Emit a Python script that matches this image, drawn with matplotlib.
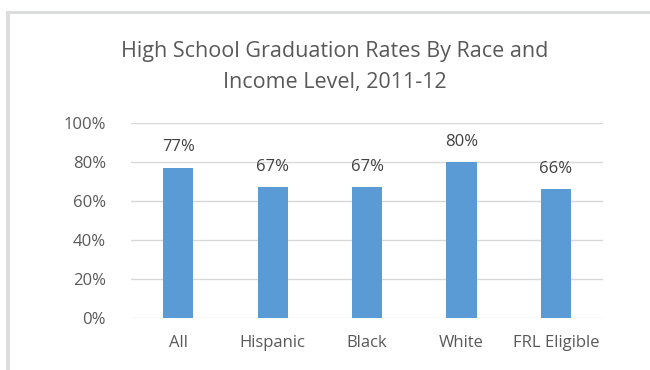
import matplotlib.pyplot as plt
from matplotlib.patches import Rectangle

categories = ['All', 'Hispanic', 'Black', 'White', 'FRL Eligible']
rates = [77, 67, 67, 80, 66]
yticks = [0, 20, 40, 60, 80, 100]

plt.rcParams['font.family'] = ['Open Sans', 'DejaVu Sans']

fig = plt.figure(figsize=(6.5, 3.7), dpi=100)
ax = fig.add_axes([0.2015, 0.1405, 0.7265, 0.527])

# grey frame on top and left like the screenshot
fig.add_artist(Rectangle((6 / 650, 0), 4 / 650, 1 - 11 / 370, transform=fig.transFigure,
                         color='#dcdedd', lw=0))
fig.add_artist(Rectangle((6 / 650, 1 - 14 / 370), 1, 3 / 370, transform=fig.transFigure,
                         color='#dcdedd', lw=0))

x = range(len(categories))
ax.bar(x, rates, width=0.32, color='#5b9bd5', zorder=3)
for i, v in zip(x, rates):
    ax.text(i, v + 10.5, f'{v}%', ha='center', va='center', fontsize=12, color='#404040')

ax.set_ylim(0, 100)
ax.set_xlim(-0.5, len(categories) - 0.5)
ax.set_yticks(yticks)
ax.set_yticklabels([f'{t}%' for t in yticks])
ax.set_xticks(list(x))
ax.set_xticklabels(categories)
ax.grid(axis='y', color='#d9d9d9', lw=1, zorder=0)
ax.tick_params(length=0, labelsize=12, labelcolor='#595959')
ax.tick_params(axis='x', pad=12)
ax.tick_params(axis='y', pad=18)
for s in ax.spines.values():
    s.set_visible(False)

fig.text(0.515, 0.818, 'High School Graduation Rates By Race and\nIncome Level, 2011-12',
         ha='center', va='center', fontsize=15.5, color='#595959', linespacing=1.62)

fig.savefig('out.png')
